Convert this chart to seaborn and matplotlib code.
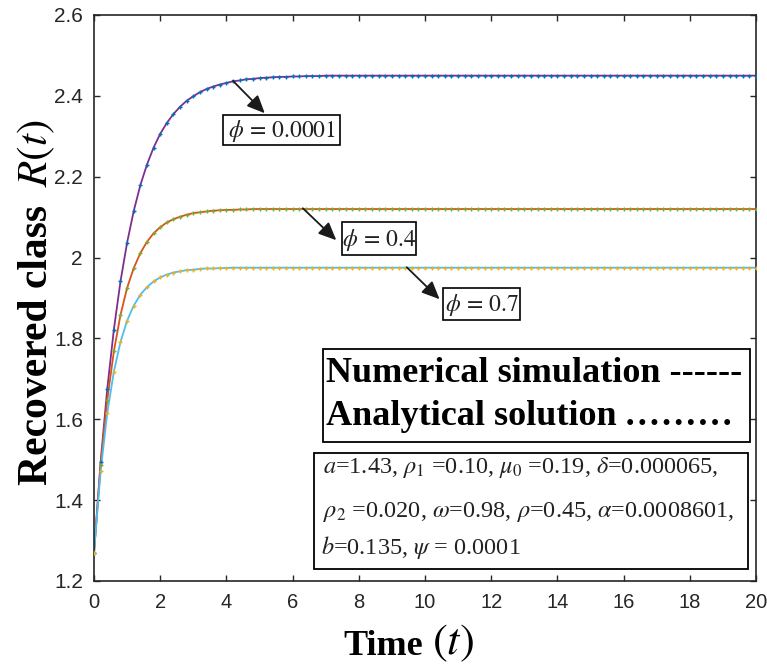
import numpy as np
import pandas as pd
import matplotlib
matplotlib.use("Agg")
import matplotlib.pyplot as plt
from matplotlib.patches import Rectangle
from matplotlib.ticker import FuncFormatter
import seaborn as sns

# ---------------- data ----------------
time = np.linspace(0, 20, 101)  # t = 0, 0.2, ..., 20

# phi = 0.0001 (purple numerical / blue analytical)
r_phi_0001 = [
    1.270, 1.494, 1.675, 1.822, 1.941, 2.037, 2.115, 2.179, 2.230, 2.272,
    2.306, 2.333, 2.355, 2.373, 2.388, 2.399, 2.409, 2.417, 2.423, 2.428,
    2.432, 2.436, 2.438, 2.441, 2.442, 2.444, 2.445, 2.446, 2.447, 2.447,
    2.448, 2.448, 2.449, 2.449, 2.449,
    2.450, 2.450, 2.450, 2.450, 2.450, 2.450, 2.450, 2.450, 2.450, 2.450,
    2.450, 2.450, 2.450, 2.450, 2.450, 2.450, 2.450, 2.450, 2.450, 2.450,
    2.450, 2.450, 2.450, 2.450, 2.450, 2.450, 2.450, 2.450, 2.450, 2.450,
    2.450, 2.450, 2.450, 2.450, 2.450, 2.450, 2.450, 2.450, 2.450, 2.450,
    2.450, 2.450, 2.450, 2.450, 2.450, 2.450, 2.450, 2.450, 2.450, 2.450,
    2.450, 2.450, 2.450, 2.450, 2.450, 2.450, 2.450, 2.450, 2.450, 2.450,
    2.450, 2.450, 2.450, 2.450, 2.450, 2.450,
]

# phi = 0.4 (orange numerical / green analytical)
r_phi_04 = [
    1.270, 1.487, 1.648, 1.768, 1.858, 1.925, 1.974, 2.011, 2.039, 2.060,
    2.075, 2.087, 2.095, 2.101, 2.106, 2.110, 2.112, 2.114, 2.116, 2.117,
    2.118, 2.118, 2.119, 2.119,
    2.120, 2.120, 2.120, 2.120, 2.120, 2.120, 2.120, 2.120, 2.120, 2.120,
    2.120, 2.120, 2.120, 2.120, 2.120, 2.120, 2.120, 2.120, 2.120, 2.120,
    2.120, 2.120, 2.120, 2.120, 2.120, 2.120, 2.120, 2.120, 2.120, 2.120,
    2.120, 2.120, 2.120, 2.120, 2.120, 2.120, 2.120, 2.120, 2.120, 2.120,
    2.120, 2.120, 2.120, 2.120, 2.120, 2.120, 2.120, 2.120, 2.120, 2.120,
    2.120, 2.120, 2.120, 2.120, 2.120, 2.120, 2.120, 2.120, 2.120, 2.120,
    2.120, 2.120, 2.120, 2.120, 2.120, 2.120, 2.120, 2.120, 2.120, 2.120,
    2.120, 2.120, 2.120, 2.120, 2.120, 2.120, 2.120,
]

# phi = 0.7 (cyan numerical / yellow analytical)
r_phi_07 = [
    1.270, 1.471, 1.615, 1.718, 1.791, 1.844, 1.881, 1.908, 1.927, 1.941,
    1.951, 1.958, 1.963, 1.966, 1.969, 1.970, 1.972, 1.973, 1.973, 1.974,
    1.974,
    1.975, 1.975, 1.975, 1.975, 1.975, 1.975, 1.975, 1.975, 1.975, 1.975,
    1.975, 1.975, 1.975, 1.975, 1.975, 1.975, 1.975, 1.975, 1.975, 1.975,
    1.975, 1.975, 1.975, 1.975, 1.975, 1.975, 1.975, 1.975, 1.975, 1.975,
    1.975, 1.975, 1.975, 1.975, 1.975, 1.975, 1.975, 1.975, 1.975, 1.975,
    1.975, 1.975, 1.975, 1.975, 1.975, 1.975, 1.975, 1.975, 1.975, 1.975,
    1.975, 1.975, 1.975, 1.975, 1.975, 1.975, 1.975, 1.975, 1.975, 1.975,
    1.975, 1.975, 1.975, 1.975, 1.975, 1.975, 1.975, 1.975, 1.975, 1.975,
    1.975, 1.975, 1.975, 1.975, 1.975, 1.975, 1.975, 1.975, 1.975, 1.975,
]

phi_labels = [r"$\phi\,=\,0.0001$", r"$\phi\,=\,0.4$", r"$\phi\,=\,0.7$"]
x_ticks = [0, 2, 4, 6, 8, 10, 12, 14, 16, 18, 20]
y_ticks = [1.2, 1.4, 1.6, 1.8, 2.0, 2.2, 2.4, 2.6]

legend_lines = ["Numerical simulation ------",
                "Analytical solution " + "\u200a".join(["."] * 9)]
param_lines = [
    r"$a$=1.43, $\rho_1$ =0.10, $\mu_0$ =0.19, $\delta$=0.000065,",
    r"$\rho_2$ =0.020, $\omega$=0.98, $\rho$=0.45, $\alpha$=0.0008601,",
    r"$b$=0.135, $\psi$ = 0.0001",
]

# ---------------- style ----------------
sns.set_theme(style="ticks")
plt.rcParams["font.family"] = ["Liberation Sans", "DejaVu Sans"]
plt.rcParams["mathtext.fontset"] = "stix"

line_cols = ["#7E2F8E", "#D95319", "#4DBEEE"]
mark_cols = ["#0072BD", "#77AC30", "#EDB120"]
axis_col = "#262626"
serif = ["Liberation Serif", "DejaVu Serif"]

W, H = 767, 665
fig = plt.figure(figsize=(W / 100, H / 100), dpi=100)
fig.patch.set_facecolor("white")


def fx(px):
    return px / W


def fy(py):
    return 1 - py / H


ax = fig.add_axes([fx(94), fy(581), fx(756) - fx(94), fy(15) - fy(581)])

series = [r_phi_0001, r_phi_04, r_phi_07]
for vals, lc, mc in zip(series, line_cols, mark_cols):
    df = pd.DataFrame({"t": time, "R": vals})
    sns.lineplot(data=df, x="t", y="R", color=lc, lw=1.3, ax=ax, zorder=2)
    sns.scatterplot(data=df, x="t", y="R", color=mc, marker="+", s=12,
                    linewidth=1.0, ax=ax, zorder=3)

ax.set_xlim(0, 20)
ax.set_ylim(1.2, 2.6)
ax.set_xticks(x_ticks)
ax.set_yticks(y_ticks)
ax.yaxis.set_major_formatter(FuncFormatter(lambda v, p: f"{v:g}"))
ax.set_xlabel("")
ax.set_ylabel("")
for s in ax.spines.values():
    s.set_visible(True)
    s.set_color(axis_col)
    s.set_linewidth(1.2)
ax.tick_params(direction="in", length=4, width=1.0, colors=axis_col,
               labelsize=15, top=True, right=True, labelcolor=axis_col)
ax.tick_params(axis="x", pad=9, labelsize=14.5)
ax.tick_params(axis="y", pad=8)

# axis labels
fig.text(fx(37), fy(345), "Recovered class", rotation=90,
         ha="center", va="center", fontsize=30, fontweight="bold",
         family=serif, color="black")
fig.text(fx(36), fy(153), r"$R(t)$", rotation=90,
         ha="center", va="center", fontsize=31, color="black")
fig.text(fx(343), fy(655), "Time", ha="left", va="baseline",
         fontsize=26, fontweight="bold", family=serif, color="black")
fig.text(fx(432), fy(654), r"$(t)$", ha="left", va="baseline",
         fontsize=32, color="black")

# arrows (tail on curve -> head near label box)
arrows = [((4.20, 2.437), (5.16, 2.357)),
          ((6.31, 2.122), (7.32, 2.043)),
          ((9.45, 1.976), (10.44, 1.897))]
for tail, head in arrows:
    ax.annotate("", xy=head, xytext=tail,
                arrowprops=dict(arrowstyle="-|>,head_length=0.9,head_width=0.4",
                                color="#1a1a1a", lw=1.3, shrinkA=0, shrinkB=0),
                zorder=5)

# phi label boxes
boxes = [(223, 115, 340, 145), (341.7, 222.3, 416, 255), (443, 287.7, 520, 320)]
for (x0, y0, x1, y1), lab in zip(boxes, phi_labels):
    fig.add_artist(Rectangle((fx(x0), fy(y1)), fx(x1) - fx(x0), fy(y0) - fy(y1),
                             transform=fig.transFigure, facecolor="white",
                             edgecolor="black", lw=1.2, zorder=6))
    fig.text(fx((x0 + x1) / 2), fy((y0 + y1) / 2 + 1), lab, ha="center",
             va="center", fontsize=17, color="#222222", zorder=7)

# legend-like box
fig.add_artist(Rectangle((fx(322.7), fy(441.7)), fx(750) - fx(322.7),
                         fy(349.3) - fy(441.7), transform=fig.transFigure,
                         facecolor="white", edgecolor="black", lw=1.3, zorder=6))
for txt, base in zip(legend_lines, [381.7, 425]):
    fig.text(fx(326), fy(base), txt, ha="left", va="baseline", fontsize=26,
             fontweight="bold", family=serif, color="black", zorder=7)

# parameter box
fig.add_artist(Rectangle((fx(314), fy(569.3)), fx(748.3) - fx(314),
                         fy(453.3) - fy(569.3), transform=fig.transFigure,
                         facecolor="white", edgecolor="black", lw=1.3, zorder=6))
for txt, base, left in zip(param_lines, [473, 517.5, 554], [322.7, 323.3, 320.7]):
    fig.text(fx(left), fy(base), txt, ha="left", va="baseline", fontsize=17.5,
             family=serif, color="#222222", zorder=7)

fig.savefig("out.png", dpi=100, facecolor="white")
